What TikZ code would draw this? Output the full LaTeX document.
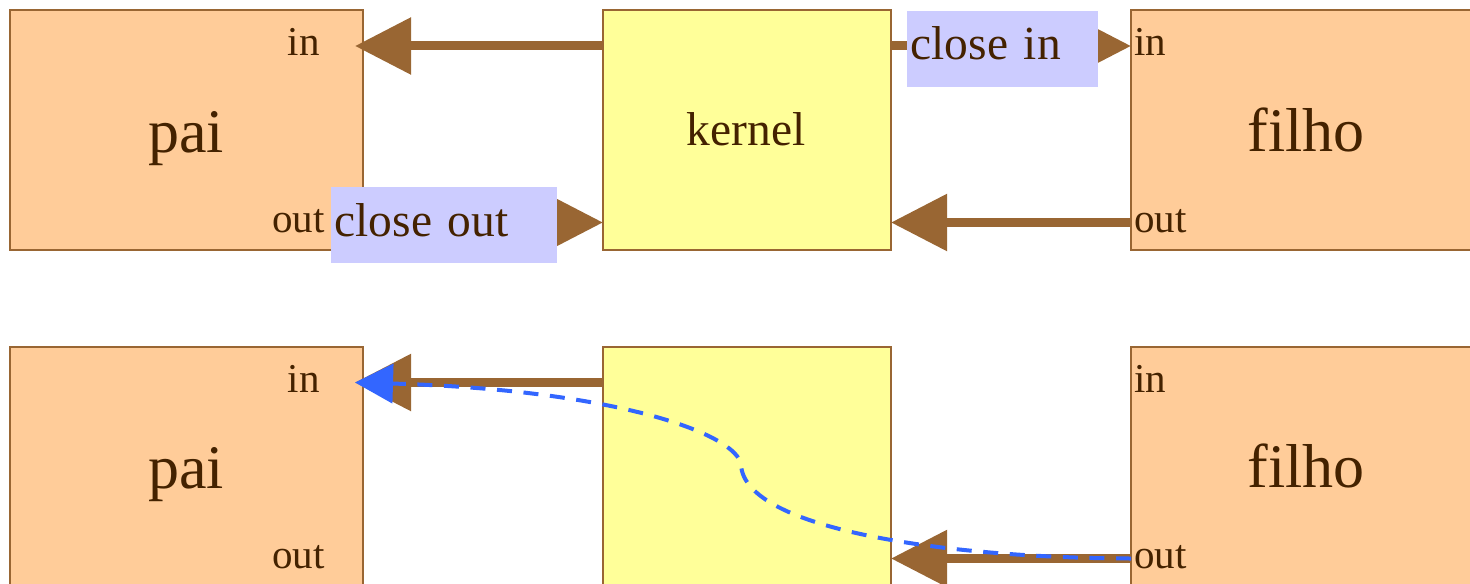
\documentclass[tikz,border=0pt]{standalone}
\usepackage{fontspec}
\setmainfont{Liberation Serif}
\usetikzlibrary{arrows.meta}
\definecolor{peach}{HTML}{FFCC99}
\definecolor{kyellow}{HTML}{FFFF99}
\definecolor{lav}{HTML}{CCCCFF}
\definecolor{brline}{HTML}{996633}
\definecolor{txt}{HTML}{442200}
\definecolor{bline}{HTML}{3366FF}
\tikzset{
  procbox/.style={draw=brline, fill=peach, line width=1pt, outer sep=0pt, inner sep=0pt, minimum width=176.5pt, minimum height=120pt},
  kernbox/.style={draw=brline, fill=kyellow, line width=1pt, outer sep=0pt, inner sep=0pt, minimum width=144pt, minimum height=120pt},
  bigtxt/.style={font=\fontsize{31}{36}\selectfont, text=txt, inner sep=0pt, anchor=base},
  midtxt/.style={font=\fontsize{23.75}{28}\selectfont, text=txt, inner sep=0pt, anchor=base},
  porttxt/.style={font=\fontsize{20.5}{24}\selectfont, text=txt, inner sep=0pt},
  brarrow/.style={draw=brline, line width=4.5pt, -{Triangle[length=28pt,width=27.5pt]}},
  lbl/.style={fill=lav, font=\fontsize{23.75}{28}\selectfont, text=txt, inner xsep=1.75pt, inner ysep=0pt, minimum height=38pt, text height=16pt, text depth=5pt, align=left},
  bluecurve/.style={draw=bline, line width=2pt, dash pattern=on 7.5pt off 5.8pt, -{Triangle[length=19pt,width=19.5pt]}}
}
\begin{document}
\begin{tikzpicture}[x=0.5pt,y=-0.5pt]
\useasboundingbox (0,0) rectangle (1470,583);
\clip (0,0) rectangle (1470,583);
% boxes top row
\node[procbox] (paiT) at (186.5,130.25) {};
\node[kernbox] (kernT) at (747,130.25) {};
\node[procbox] (filhoT) at (1307.5,130.25) {};
% boxes bottom row
\node[procbox] (paiB) at (186.5,466.5) {};
\node[kernbox] (kernB) at (747,466.5) {};
\node[procbox] (filhoB) at (1307.5,466.5) {};
% texts top
\node[bigtxt] (paiTt) at (186,152) {pai};
\node[bigtxt] (filhoTt) at (1306,151) {filho};
\node[midtxt] (kernTt) at (746,145) {kernel};
\node[porttxt, anchor=base east] (paiTin) at (320,56) {in};
\node[porttxt, anchor=base east] (paiTout) at (325,232) {out};
\node[porttxt, anchor=base west] (filhoTin) at (1134,56) {in};
\node[porttxt, anchor=base west] (filhoTout) at (1134,232) {out};
% texts bottom
\node[bigtxt] (paiBt) at (186,488) {pai};
\node[bigtxt] (filhoBt) at (1306,487) {filho};
\node[porttxt, anchor=base east] (paiBin) at (320,392) {in};
\node[porttxt, anchor=base east] (paiBout) at (325,568) {out};
\node[porttxt, anchor=base west] (filhoBin) at (1134,392) {in};
\node[porttxt, anchor=base west] (filhoBout) at (1134,568) {out};
% port coordinates
\coordinate (piT) at (355,46);
\coordinate (poT) at (363,222.5);
\coordinate (piB) at (355,382.5);
\coordinate (poB) at (363,558.5);
% top arrows
\draw[brarrow] (kernT.west |- piT) -- (piT);
\draw[brarrow] (paiT.east |- poT) -- (kernT.west |- poT);
\draw[brarrow] (kernT.east |- piT) -- (filhoT.west |- piT);
\draw[brarrow] (filhoT.west |- poT) -- (kernT.east |- poT);
% labels
\node[lbl, text width=92pt] (closein) at (1002.5,49) {close in};
\node[lbl, text width=109.5pt] (closeout) at (444,225) {close out};
% bottom arrows
\draw[brarrow] (kernB.west |- piB) -- (piB);
\draw[brarrow] (filhoB.west |- poB) -- (kernB.east |- poB);
% blue dashed path
\coordinate (bend) at (741,465);
\draw[bluecurve] (filhoB.west |- poB) .. controls (950,558) and (745,530) .. (bend) .. controls (738,435) and (620,390) .. (piB);
\end{tikzpicture}
\end{document}
